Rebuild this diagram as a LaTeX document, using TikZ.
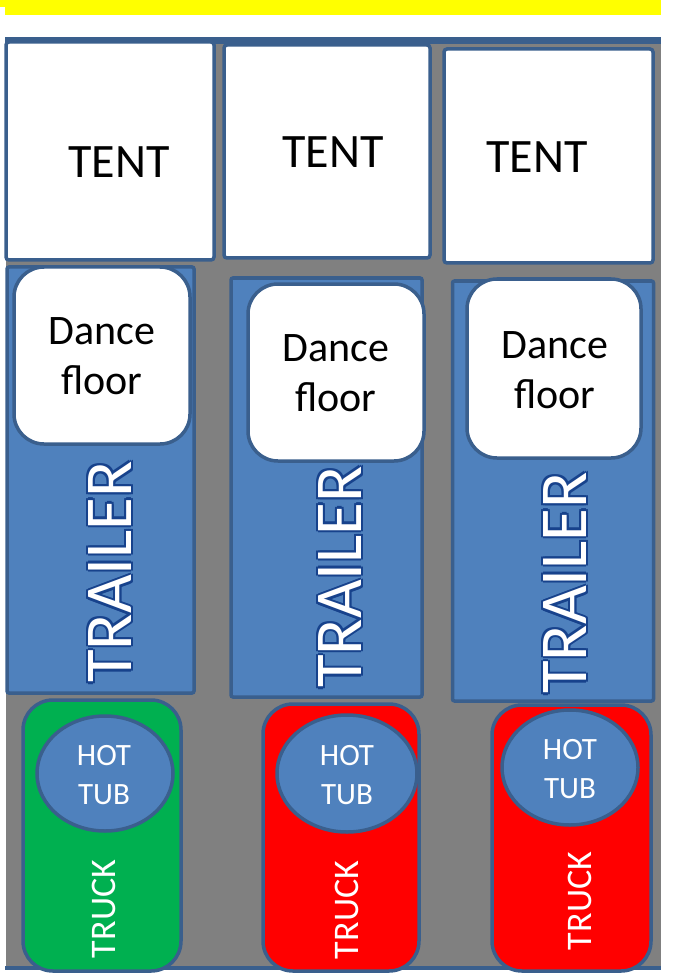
\documentclass[tikz,border=0pt]{standalone}
\usepackage{fontspec}
\setmainfont{Carlito}
\usetikzlibrary{shapes.geometric}
\definecolor{edge}{HTML}{3A5F8D}
\definecolor{tblue}{HTML}{4F81BD}
\definecolor{bggray}{HTML}{808080}
\definecolor{tgreen}{HTML}{00B050}
\definecolor{tred}{HTML}{FF0000}
\definecolor{glow}{HTML}{17428C}
\definecolor{barYellow}{rgb}{1,1,0}
\newcommand\glowtext[1]{%
  \def\glowa{2.2pt}\def\glowb{1.55pt}%
  \rlap{\color{glow}\kern\glowa#1}%
  \rlap{\color{glow}\kern-\glowa#1}%
  \rlap{\color{glow}\raisebox{\glowa}{#1}}%
  \rlap{\color{glow}\raisebox{-\glowa}{#1}}%
  \rlap{\color{glow}\kern\glowb\raisebox{\glowb}{#1}}%
  \rlap{\color{glow}\kern\glowb\raisebox{-\glowb}{#1}}%
  \rlap{\color{glow}\kern-\glowb\raisebox{\glowb}{#1}}%
  \rlap{\color{glow}\kern-\glowb\raisebox{-\glowb}{#1}}%
  {\color{white}#1}}
\tikzset{
  bd/.style={draw=edge, line width=3.5pt, inner sep=0pt},
  tentbox/.style={bd, fill=white, rounded corners=3pt},
  trailerbox/.style={bd, fill=tblue, rounded corners=2pt},
  floorbox/.style={bd, fill=white, rounded corners=30pt},
  truckbox/.style={bd, rounded corners=30pt},
  tubshape/.style={bd, ellipse, fill=tblue},
  tenttxt/.style={inner sep=0pt, font=\fontsize{48}{56}\selectfont, text=black},
  floortxt/.style={inner sep=0pt, align=center, font=\fontsize{42}{50}\selectfont, text=black},
  trailertxt/.style={inner sep=0pt, rotate=90, font=\fontsize{67}{80}\selectfont},
  tubtxt/.style={inner sep=0pt, align=center, font=\fontsize{31}{39}\selectfont, text=white},
  trucktxt/.style={inner sep=0pt, rotate=90, font=\fontsize{36}{43}\selectfont, text=white},
}
\begin{document}
\begin{tikzpicture}[x=1pt,y=-1pt]
\useasboundingbox (0,0) rectangle (673,973);
% yellow bar
\path[fill=barYellow] (5,0) rectangle (661,15.5);
\path[fill=barYellow] (0,0) rectangle (6,7);
% background
\path[fill=bggray] (6,38) rectangle (661,968);
\path[fill=edge] (5,37) rectangle (661,44);
\path[fill=edge] (5,966) rectangle (661,970);
% tents
\node[tentbox, minimum width=208pt, minimum height=218pt] (tent1) at (110,151) {};
\node[tentbox, minimum width=206pt, minimum height=213pt] (tent2) at (327,151.5) {};
\node[tentbox, minimum width=209pt, minimum height=214pt] (tent3) at (548.5,156) {};
\node[tenttxt] (tent1t) at (119,162.5) {TENT};
\node[tenttxt] (tent2t) at (333,152) {TENT};
\node[tenttxt] (tent3t) at (537,157) {TENT};
% trailers
\node[trailerbox, minimum width=187pt, minimum height=426pt] (trl1) at (100.5,480) {};
\node[trailerbox, minimum width=191pt, minimum height=419pt] (trl2) at (326.5,487.5) {};
\node[trailerbox, minimum width=201pt, minimum height=420pt] (trl3) at (553,491) {};
% dance floors
\node[floorbox, minimum width=176pt, minimum height=177pt] (df1) at (102,355.5) {};
\node[floorbox, minimum width=176pt, minimum height=177pt] (df2) at (336,372.5) {};
\node[floorbox, minimum width=174pt, minimum height=179pt] (df3) at (554,368.5) {};
\node[floortxt] (df1t) at (102,356) {Dance\\floor};
\node[floortxt] (df2t) at (336,373) {Dance\\floor};
\node[floortxt] (df3t) at (555,370) {Dance\\floor};
% trailer labels
\node[trailertxt] (trl1t) at (110,572) {\glowtext{TRAILER}};
\node[trailertxt] (trl2t) at (340,577) {\glowtext{TRAILER}};
\node[trailertxt] (trl3t) at (565,583) {\glowtext{TRAILER}};
% trucks
\node[truckbox, fill=tgreen, minimum width=158pt, minimum height=271pt] (trk1) at (102,835.5) {};
\node[truckbox, fill=tred, minimum width=156pt, minimum height=267pt] (trk2) at (341,837.5) {};
\node[truckbox, fill=tred, minimum width=159pt, minimum height=266pt] (trk3) at (571.5,838) {};
% hot tubs
\node[tubshape, minimum width=136pt, minimum height=115pt] (tub1) at (105,773.5) {};
\node[tubshape, minimum width=140pt, minimum height=117pt] (tub2) at (347,773.5) {};
\node[tubshape, minimum width=136pt, minimum height=115pt] (tub3) at (570,767.5) {};
\node[tubtxt] (tub1t) at (104,775) {HOT\\TUB};
\node[tubtxt] (tub2t) at (347,775) {HOT\\TUB};
\node[tubtxt] (tub3t) at (570,769) {HOT\\TUB};
% truck labels
\node[trucktxt] (trk1t) at (104,909) {TRUCK};
\node[trucktxt] (trk2t) at (347,910) {TRUCK};
\node[trucktxt] (trk3t) at (580,901) {TRUCK};
\end{tikzpicture}
\end{document}
